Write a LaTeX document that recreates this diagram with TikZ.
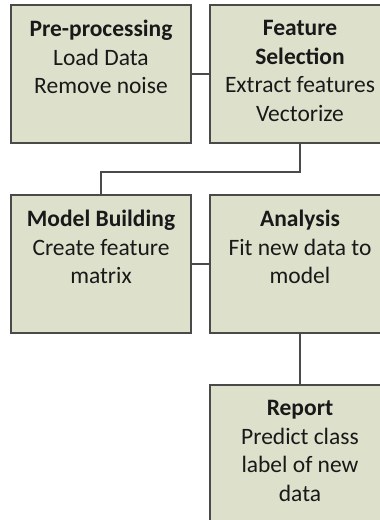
\documentclass[tikz,border=0pt]{standalone}
\usepackage{fontspec}
\setmainfont{Carlito}
\definecolor{boxfill}{HTML}{DDE0CB}
\definecolor{boxline}{HTML}{4A4A4A}
\begin{document}
\begin{tikzpicture}[x=1pt,y=1pt,
  stagebox/.style={draw=boxline,line width=1.5pt,fill=boxfill,minimum width=180pt,minimum height=138pt,inner sep=0pt},
  stagetext/.style={anchor=north,inner sep=0pt,align=center,font=\fontsize{23.5}{28.5}\selectfont,text=black!90},
  link/.style={draw=boxline,line width=1.5pt}]
\useasboundingbox (0,0) rectangle (380,-520);
\node[stagebox] (pre) at (101,-74) {};
\node[stagebox] (fea) at (300,-74) {};
\node[stagebox] (mod) at (101,-264) {};
\node[stagebox] (ana) at (300,-264) {};
\node[stagebox] (rep) at (300,-454) {};
\node[stagetext] (pret) at ([yshift=-16pt]pre.north) {\textbf{Pre-processing}\\Load Data\\Remove noise};
\node[stagetext] (feat) at ([yshift=-16pt]fea.north) {\textbf{Feature}\\\textbf{Selection}\\Extract features\\Vectorize};
\node[stagetext] (modt) at ([yshift=-16pt]mod.north) {\textbf{Model Building}\\Create feature\\matrix};
\node[stagetext] (anat) at ([yshift=-16pt]ana.north) {\textbf{Analysis}\\Fit new data to\\model};
\node[stagetext] (rept) at ([yshift=-16pt]rep.north) {\textbf{Report}\\Predict class\\label of new\\data};
\coordinate (k1) at ([yshift=-28pt]fea.south);
\coordinate (k2) at (k1 -| mod.north);
\draw[link] (pre.east) -- (fea.west);
\draw[link] (fea.south) -- (k1) -- (k2) -- (mod.north);
\draw[link] (mod.east) -- (ana.west);
\draw[link] (ana.south) -- (rep.north);
\end{tikzpicture}
\end{document}
